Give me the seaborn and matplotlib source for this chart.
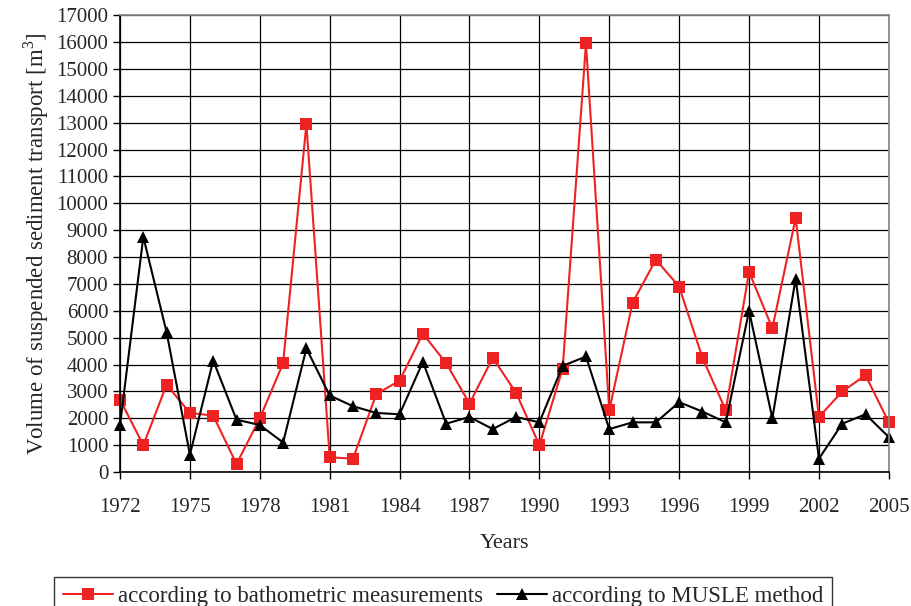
import numpy as np
import pandas as pd
import matplotlib
matplotlib.use("Agg")
import matplotlib.pyplot as plt
import seaborn as sns

# Data
years = list(range(1972, 2006))
bathometric = [2700, 1000, 3250, 2200, 2100, 300, 2000, 4050, 12950, 550,
               500, 2900, 3400, 5150, 4050, 2550, 4250, 2950, 1000, 3850,
               15950, 2300, 6300, 7900, 6900, 4250, 2300, 7450, 5350, 9450,
               2050, 3000, 3600, 1850]
musle = [1750, 8750, 5200, 650, 4150, 1950, 1750, 1100, 4600, 2850,
         2450, 2200, 2150, 4100, 1800, 2050, 1600, 2050, 1850, 3950,
         4300, 1600, 1850, 1850, 2600, 2250, 1850, 6000, 2000, 7200,
         500, 1800, 2150, 1300]
series_names = ["according to bathometric measurements",
                "according to MUSLE method"]

df = pd.DataFrame({"Year": years, series_names[0]: bathometric,
                   series_names[1]: musle})
long_df = df.melt(id_vars="Year", var_name="Series", value_name="Volume")

sns.set_theme(style="white")
plt.rcParams['font.family'] = ['Liberation Serif', 'DejaVu Serif']
plt.rcParams['mathtext.fontset'] = 'custom'
plt.rcParams['mathtext.rm'] = 'Liberation Serif'

fig = plt.figure(figsize=(9.12, 6.06), dpi=100)
ax = fig.add_axes([0.1316, 0.221, 0.843, 0.754])

sns.lineplot(data=long_df, x="Year", y="Volume", hue="Series", style="Series",
             palette=["#ee2222", "black"], markers=["s", "^"], dashes=False,
             markersize=8, markeredgewidth=0, linewidth=1.5, clip_on=False,
             ax=ax)

ax.set_xlim(1972, 2005)
ax.set_ylim(0, 17000)
ax.set_xticks(range(1972, 2006, 3))
ax.set_yticks(range(0, 17001, 1000))
ax.grid(True, color="black", linewidth=0.9)
ax.set_axisbelow(True)
for side in ["top", "right"]:
    ax.spines[side].set_color("#888888")
for side in ["left", "bottom"]:
    ax.spines[side].set_color("black")
    ax.spines[side].set_linewidth(1.2)
ax.tick_params(axis="both", direction="out", length=5, width=1, color="black",
               labelsize=15, bottom=True, left=True)
ax.tick_params(axis="x", pad=14)
ax.set_xlabel("Years", fontsize=16, labelpad=12)
ax.set_ylabel("Volume of suspended sediment transport [m$^3$]", fontsize=16.5)

handles, labels = ax.get_legend_handles_labels()
ax.legend(handles, labels, loc="upper center", bbox_to_anchor=(0.42, -0.205),
          ncol=2, frameon=True, fancybox=False, edgecolor="black",
          fontsize=16.5, handlelength=2.2, handletextpad=0.2, columnspacing=0.6,
          borderpad=0.4)

fig.savefig("out.png", dpi=100)
